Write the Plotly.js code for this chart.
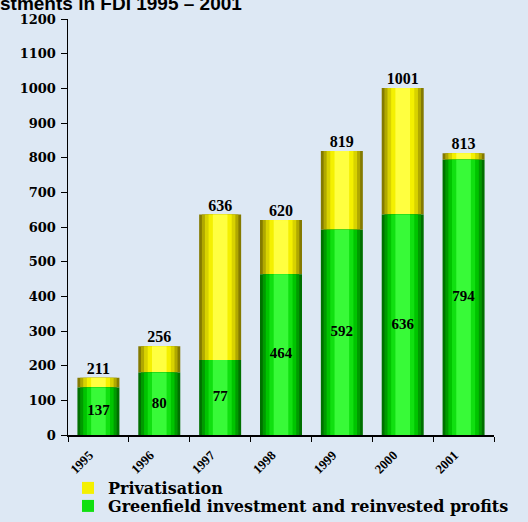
<!DOCTYPE html>
<html>
<head>
<meta charset="utf-8">
<script src="https://cdn.plot.ly/plotly-3.0.1.min.js"></script>
<style>html,body{margin:0;padding:0;background:#dde8f4;}#chart{width:528px;height:522px;}</style>
</head>
<body>
<div id="chart"></div>
<script>
// Data
const years = ['1995', '1996', '1997', '1998', '1999', '2000', '2001'];
const greenfield = [137, 180, 216, 464, 592, 636, 794];
const privatisation = [28, 76, 420, 156, 227, 365, 19];
const greenLabels = ['137', '80', '77', '464', '592', '636', '794'];
const totalLabels = ['211', '256', '636', '620', '819', '1001', '813'];
const yTicks = [0, 100, 200, 300, 400, 500, 600, 700, 800, 900, 1000, 1100, 1200];

const totals = greenfield.map((g, i) => g + privatisation[i]);
const greenMid = greenfield.map(g => g / 2);

const serif = 'Liberation Serif, Times New Roman, serif';
const wideSerif = 'DejaVu Serif, serif';

// cylinder-like shading layers (outer dark -> inner bright)
const widths = [0.69, 0.60, 0.50, 0.38, 0.24];
const yellowShades = ['#847a00', '#b0a800', '#d8d200', '#f4f000', '#ffff40'];
const greenShades = ['#007000', '#009a00', '#00c400', '#10e010', '#38fa38'];

const traces = [];
widths.forEach((w, k) => {
  traces.push({
    type: 'bar', x: years, y: privatisation, base: greenfield, width: w,
    name: 'Privatisation', showlegend: k === 3, legend: 'legend',
    marker: {color: yellowShades[k], line: {width: 0}}, hoverinfo: 'skip'
  });
});
widths.forEach((w, k) => {
  traces.push({
    type: 'bar', x: years, y: greenfield, width: w,
    name: 'Greenfield investment and reinvested profits', showlegend: k === 3, legend: 'legend2',
    marker: {color: greenShades[k], line: {width: 0}}, hoverinfo: 'skip'
  });
});
traces.push({
  type: 'scatter', mode: 'text', x: years, y: greenMid, text: greenLabels,
  textposition: 'middle center', showlegend: false, hoverinfo: 'skip',
  textfont: {family: serif, size: 15, color: '#000', weight: 'bold'}
});
traces.push({
  type: 'scatter', mode: 'text', x: years, y: totals, text: totalLabels,
  textposition: 'top center', showlegend: false, hoverinfo: 'skip',
  textfont: {family: serif, size: 16, color: '#000', weight: 'bold'}
});

const legendFont = {family: wideSerif, size: 16, color: '#000', weight: 'bold'};

const layout = {
  width: 528, height: 522,
  margin: {l: 68, r: 34, t: 19, b: 87, autoexpand: false},
  paper_bgcolor: '#dde8f4', plot_bgcolor: '#dde8f4',
  barmode: 'overlay',
  showlegend: true,
  legend: {
    x: 0.0, y: -0.1274, xanchor: 'left', yanchor: 'middle',
    bgcolor: 'rgba(0,0,0,0)', font: legendFont
  },
  legend2: {
    x: 0.0, y: -0.1707, xanchor: 'left', yanchor: 'middle',
    bgcolor: 'rgba(0,0,0,0)', font: legendFont
  },
  xaxis: {
    type: 'category', range: [-0.5, 6.5],
    showline: true, linecolor: '#000', linewidth: 1.5,
    ticks: 'outside', tickson: 'boundaries', ticklen: 5, tickcolor: '#000',
    tickangle: -45, showgrid: false, zeroline: false,
    ticklabelshift: -9, ticklabelstandoff: 6,
    tickfont: {family: serif, size: 13, color: '#000', weight: 'bold'}
  },
  yaxis: {
    range: [0, 1200], tickvals: yTicks, ticktext: yTicks.map(String),
    showline: true, linecolor: '#000', linewidth: 1.5,
    ticks: 'outside', ticklen: 6, tickcolor: '#000', showgrid: false, zeroline: false,
    ticklabelstandoff: 2,
    tickfont: {family: wideSerif, size: 13, color: '#000', weight: 'bold'}
  },
  annotations: [{
    text: 'Investments in FDI 1995 – 2001', xref: 'paper', yref: 'paper',
    x: 0.413, y: 1.037, xanchor: 'right', yanchor: 'middle', showarrow: false,
    font: {family: 'Liberation Sans, Arial, sans-serif', size: 19, color: '#000', weight: 'bold'}
  }]
};

Plotly.newPlot('chart', traces, layout, {staticPlot: true, displayModeBar: false});
</script>
</body>
</html>
